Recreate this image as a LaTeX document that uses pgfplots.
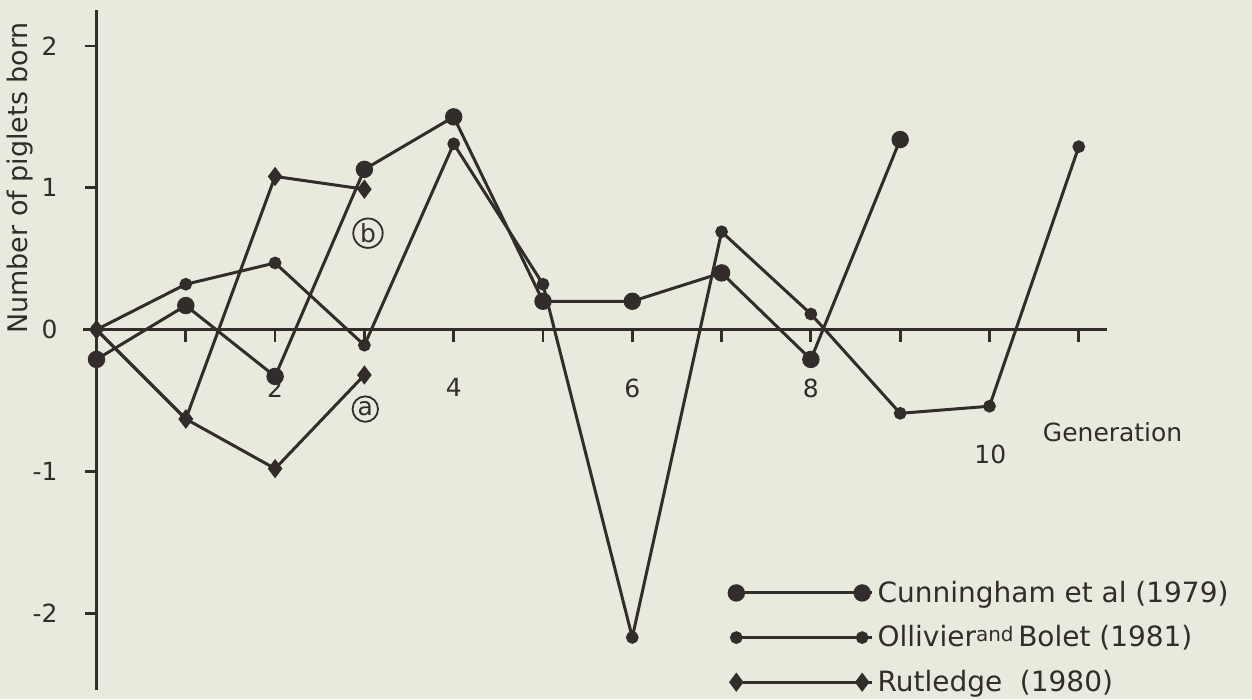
\documentclass[border=0pt]{standalone}
\usepackage{pgfplots}
\pgfplotsset{compat=1.18}
\usepackage{fontspec}
\setmainfont{DejaVu Sans}
\usetikzlibrary{backgrounds}

\definecolor{paper}{RGB}{233,234,222}
\definecolor{ink}{RGB}{50,44,42}

% Deviation in number of piglets born, by generation of selection
\pgfplotstableread{
gen val
0 -0.21
1 0.17
2 -0.33
3 1.13
4 1.50
5 0.20
6 0.20
7 0.40
8 -0.21
9 1.34
}\cunningham
\pgfplotstableread{
gen val
0 0
1 0.32
2 0.47
3 -0.11
4 1.31
5 0.32
6 -2.17
7 0.69
8 0.11
9 -0.59
10 -0.54
11 1.29
}\ollivier
\pgfplotstableread{
gen val
0 0
1 -0.63
2 -0.98
3 -0.32
}\rutledgeA
\pgfplotstableread{
gen val
0 0
1 -0.63
2 1.08
3 0.99
}\rutledgeB

\newcommand{\lbl}{\fontsize{12.5}{15}\selectfont}

\begin{document}
\begin{tikzpicture}[background rectangle/.style={fill=paper},
  show background rectangle, inner frame sep=0pt]
\begin{axis}[
  x=44.7pt, y=71pt,
  xmin=-0.15, xmax=11.32, ymin=-2.54, ymax=2.25,
  axis lines=middle,
  axis line style={ink, line width=1.8pt, -},
  hide obscured x ticks=false, hide obscured y ticks=false,
  xtick={1,...,11},
  xticklabels={,2,,4,,6,,8,,,},
  ytick={-2,-1,0,1,2},
  yticklabels={-2,-1,0,1,2},
  tick align=outside,
  major tick length=6pt,
  tick style={ink, line width=1.4pt},
  xticklabel style={font=\lbl, text=ink, yshift=-15pt},
  yticklabel style={font=\lbl, text=ink, xshift=-10pt},
  clip=false,
  legend cell align=left,
  legend style={at={(axis cs:7.08,-1.74)}, anchor=north west,
    draw=none, fill=none, inner xsep=0pt, inner ysep=0pt,
    font=\fontsize{14}{16}\selectfont, text=ink, row sep=6.2pt},
  legend image code/.code={\draw[#1] plot coordinates {(0pt,0pt) (63pt,0pt)};
    \path (0pt,0pt) -- (68pt,0pt);},
  every axis plot/.append style={ink, line width=1.5pt},
]
\addplot[mark=*, mark size=3.6pt, mark options={fill=ink, draw=ink}]
  table[x=gen, y=val] {\cunningham};
\addlegendentry{Cunningham et al (1979)}
\addplot[mark=*, mark size=2.4pt, mark options={fill=ink, draw=ink}]
  table[x=gen, y=val] {\ollivier};
\addlegendentry{Ollivier\raisebox{2.5pt}{\fontsize{10}{12}\selectfont and}\,Bolet (1981)}
\addplot[mark=diamond*, mark size=3.6pt, mark options={fill=ink, draw=ink}]
  table[x=gen, y=val] {\rutledgeA};
\addlegendentry{Rutledge\ \ (1980)}
\addplot[forget plot, mark=diamond*, mark size=3.6pt, mark options={fill=ink, draw=ink}]
  table[x=gen, y=val] {\rutledgeB};

% lines (a) and (b)
\node[draw=ink, circle, line width=0.9pt, inner sep=0.8pt, font=\lbl, text=ink]
  at (axis cs:3.04,0.68) {b};
\node[draw=ink, circle, line width=0.9pt, inner sep=0.8pt, font=\lbl, text=ink]
  at (axis cs:3.01,-0.56) {a};

\node[font=\lbl, text=ink] at (axis cs:10.01,-0.88) {10};
\node[font=\lbl, text=ink, anchor=west] at (axis cs:10.52,-0.72) {Generation};
\node[font=\fontsize{13.5}{16}\selectfont, text=ink, rotate=90] at (axis cs:-0.86,1.07) {Number of piglets born};

% page extent
\path (axis cs:-1.063,2.324) rectangle (axis cs:12.94,-2.606);
\end{axis}
\end{tikzpicture}
\end{document}
